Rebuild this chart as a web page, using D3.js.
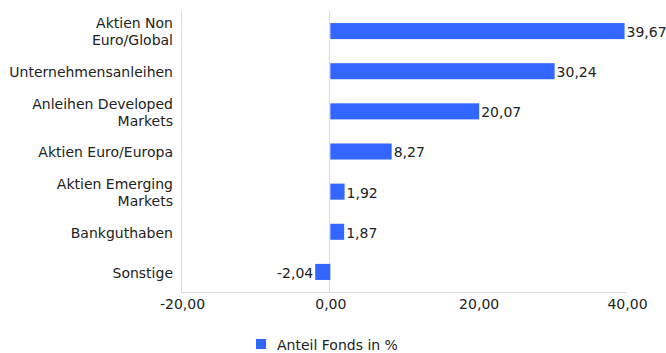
<!DOCTYPE html>
<html>
<head>
<meta charset="utf-8">
<script src="https://cdn.jsdelivr.net/npm/d3@7"></script>
<style>
  html, body { margin: 0; padding: 0; background: #fff; }
  svg { display: block; font-family: "DejaVu Sans", sans-serif; }
</style>
</head>
<body>
<svg id="chart" width="666" height="353"></svg>
<script>
// Portfolio allocation by asset class
const categories = [
  ["Aktien Non", "Euro/Global"],
  ["Unternehmensanleihen"],
  ["Anleihen Developed", "Markets"],
  ["Aktien Euro/Europa"],
  ["Aktien Emerging", "Markets"],
  ["Bankguthaben"],
  ["Sonstige"]
];
const values = [39.67, 30.24, 20.07, 8.27, 1.92, 1.87, -2.04];
const tickValues = [-20, 0, 20, 40];
const seriesName = "Anteil Fonds in %";

const fmt = v => d3.format(".2f")(v).replace("\u2212", "-").replace(".", ",");
const barColor = "#3366ff";
const textColor = "#222";
const fontSize = 14;

const svg = d3.select("#chart");
const plot = { left: 182, right: 627, top: 11, bottom: 292 };

const x = d3.scaleLinear().domain([-20, 40]).range([plot.left, plot.right]);
const y = d3.scaleBand()
  .domain(d3.range(values.length))
  .range([plot.top, plot.bottom])
  .paddingInner(0.6)
  .paddingOuter(0.3);

// plot frame: left edge, zero line, bottom axis
svg.append("line")
  .attr("x1", plot.left - 0.5).attr("x2", plot.left - 0.5)
  .attr("y1", plot.top).attr("y2", plot.bottom)
  .attr("stroke", "#dcdcdc");
svg.append("line")
  .attr("x1", Math.round(x(0)) - 0.5).attr("x2", Math.round(x(0)) - 0.5)
  .attr("y1", plot.top).attr("y2", plot.bottom)
  .attr("stroke", "#dcdcdc");

// bars
svg.append("g").selectAll("rect")
  .data(values)
  .join("rect")
  .attr("x", d => x(Math.min(0, d)))
  .attr("width", d => Math.abs(x(d) - x(0)))
  .attr("y", (d, i) => y(i))
  .attr("height", y.bandwidth())
  .attr("fill", barColor);

// value labels
svg.append("g").selectAll("text")
  .data(values)
  .join("text")
  .attr("x", d => d >= 0 ? x(d) + 2 : x(d) - 2)
  .attr("y", (d, i) => y(i) + y.bandwidth() / 2 + 1)
  .attr("dy", "0.35em")
  .attr("text-anchor", d => d >= 0 ? "start" : "end")
  .attr("font-size", fontSize)
  .attr("fill", textColor)
  .text(d => fmt(d));

// category labels
const catG = svg.append("g");
categories.forEach((lines, i) => {
  const cy = y(i) + y.bandwidth() / 2 + 1;
  const lh = 17;
  const t = catG.append("text")
    .attr("text-anchor", "end")
    .attr("font-size", fontSize)
    .attr("fill", textColor);
  lines.forEach((ln, j) => {
    t.append("tspan")
      .attr("x", 173)
      .attr("y", cy + (j - (lines.length - 1) / 2) * lh)
      .attr("dy", "0.35em")
      .text(ln);
  });
});

// bottom axis
const axis = d3.axisBottom(x).tickValues(tickValues).tickSize(0).tickPadding(7).tickFormat(fmt);
const axG = svg.append("g")
  .attr("transform", `translate(0,${plot.bottom})`)
  .call(axis);
axG.select(".domain")
  .attr("d", `M${plot.left - 1},0.5H${plot.right}`)
  .attr("stroke", "#dcdcdc");
axG.selectAll("text")
  .attr("font-family", "DejaVu Sans, sans-serif")
  .attr("font-size", fontSize)
  .attr("fill", textColor);

// legend
const lg = svg.append("g").attr("transform", "translate(256,339)");
lg.append("rect").attr("width", 10).attr("height", 10).attr("fill", barColor);
lg.append("text")
  .attr("x", 21).attr("y", 6).attr("dy", "0.35em")
  .attr("font-size", fontSize).attr("fill", textColor)
  .text(seriesName);
</script>
</body>
</html>
